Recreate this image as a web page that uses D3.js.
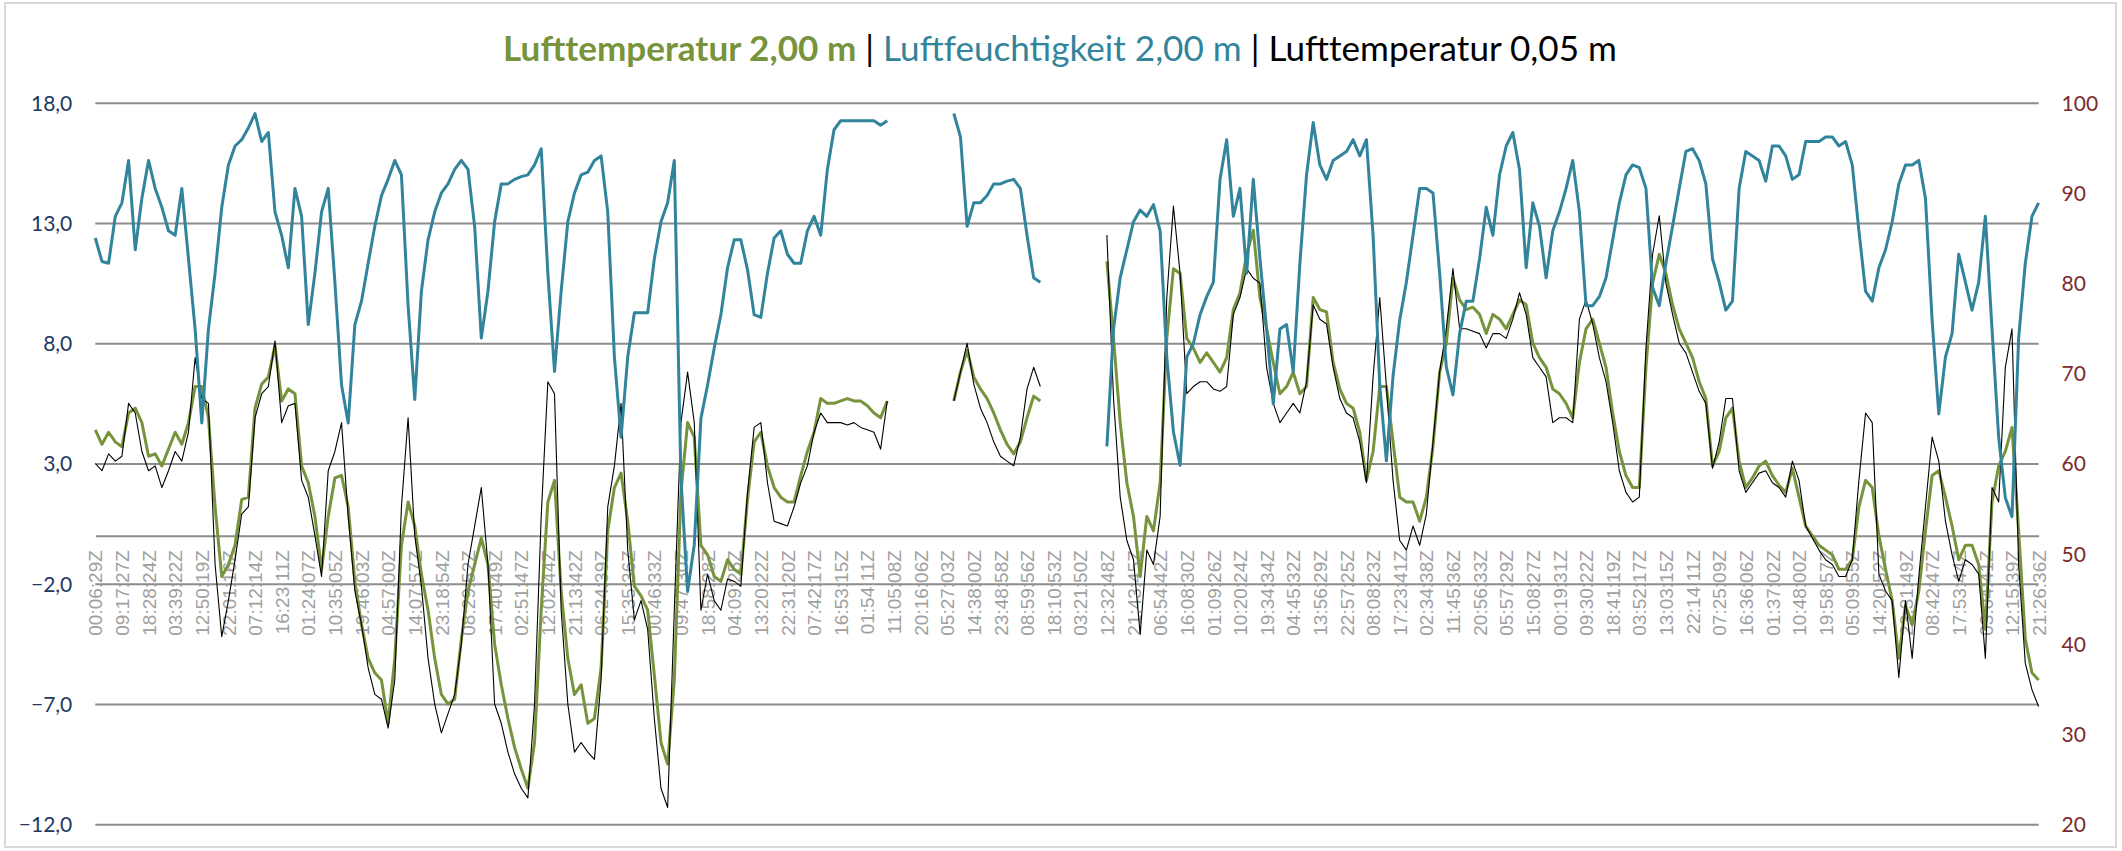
<!DOCTYPE html>
<html>
<head>
<meta charset="utf-8">
<script src="https://cdn.jsdelivr.net/npm/d3@7"></script>
<style>
  body { margin: 0; background: #fff; }
  svg { display: block; }
  text { font-family: Lato, "Open Sans", sans-serif; }
</style>
</head>
<body>
<div id="chart"></div>
<script>
// tick labels on the time axis, one every 4 samples
const timeLabels = [
  "00:06:29Z", "09:17:27Z", "18:28:24Z", "03:39:22Z", "12:50:19Z", "22:01:16Z", "07:12:14Z", "16:23:11Z",
  "01:24:07Z", "10:35:05Z", "19:46:03Z", "04:57:00Z", "14:07:57Z", "23:18:54Z", "08:29:52Z", "17:40:49Z",
  "02:51:47Z", "12:02:44Z", "21:13:42Z", "06:24:39Z", "15:35:36Z", "00:46:33Z", "09:47:30Z", "18:58:28Z",
  "04:09:25Z", "13:20:22Z", "22:31:20Z", "07:42:17Z", "16:53:15Z", "01:54:11Z", "11:05:08Z", "20:16:06Z",
  "05:27:03Z", "14:38:00Z", "23:48:58Z", "08:59:56Z", "18:10:53Z", "03:21:50Z", "12:32:48Z", "21:43:45Z",
  "06:54:42Z", "16:08:30Z", "01:09:26Z", "10:20:24Z", "19:34:34Z", "04:45:32Z", "13:56:29Z", "22:57:25Z",
  "08:08:23Z", "17:23:41Z", "02:34:38Z", "11:45:36Z", "20:56:33Z", "05:57:29Z", "15:08:27Z", "00:19:31Z",
  "09:30:22Z", "18:41:19Z", "03:52:17Z", "13:03:15Z", "22:14:11Z", "07:25:09Z", "16:36:06Z", "01:37:02Z",
  "10:48:00Z", "19:58:57Z", "05:09:55Z", "14:20:52Z", "23:31:49Z", "08:42:47Z", "17:53:44Z", "03:04:41Z",
  "12:15:39Z", "21:26:36Z"
];
const labelStep = 4;

// Luftfeuchtigkeit 2,00 m (%)
const humidity = [
  85.0, 82.4, 82.2, 87.4, 88.9, 93.6, 83.7, 89.4, 93.6, 90.5,
  88.4, 85.8, 85.3, 90.5, 82.7, 74.9, 64.5, 74.9, 81.1, 88.4,
  93.1, 95.2, 95.9, 97.2, 98.8, 95.7, 96.7, 87.9, 85.3, 81.7,
  90.5, 87.4, 75.4, 81.1, 87.9, 90.5, 80.1, 68.7, 64.5, 75.4,
  78.0, 82.2, 86.3, 89.7, 91.5, 93.6, 92.0, 77.5, 67.1, 79.1,
  84.8, 87.9, 90.0, 91.0, 92.6, 93.6, 92.6, 86.3, 73.9, 79.1,
  86.8, 91.0, 91.0, 91.5, 91.8, 92.0, 93.1, 94.9, 81.1, 70.2,
  79.1, 86.8, 90.0, 92.0, 92.3, 93.6, 94.1, 87.9, 71.8, 62.9,
  71.8, 76.7, 76.7, 76.7, 82.7, 86.8, 88.9, 93.6, 58.3, 45.8,
  51.0, 65.0, 68.7, 72.8, 76.5, 81.7, 84.8, 84.8, 81.5, 76.5,
  76.2, 81.1, 85.0, 85.8, 83.2, 82.2, 82.2, 85.8, 87.4, 85.3,
  92.6, 97.0, 98.0, 98.0, 98.0, 98.0, 98.0, 98.0, 97.5, 98.0,
  null, null, null, null, null, null, null, null, null, 98.8,
  96.2, 86.3, 88.9, 88.9, 89.7, 91.0, 91.0, 91.3, 91.5, 90.5,
  85.3, 80.6, 80.1, null, null, null, null, null, null, null,
  null, null, 61.9, 74.9, 80.6, 83.7, 86.8, 88.1, 87.4, 88.7,
  85.8, 71.8, 63.5, 59.8, 71.8, 73.3, 76.5, 78.5, 80.1, 91.5,
  95.9, 87.4, 90.5, 81.1, 91.5, 82.7, 74.9, 66.6, 74.9, 75.4,
  70.2, 82.2, 92.0, 97.8, 93.1, 91.5, 93.6, 94.1, 94.6, 95.9,
  94.1, 95.9, 85.3, 68.7, 60.3, 69.7, 75.9, 80.1, 85.3, 90.5,
  90.5, 90.0, 81.1, 70.7, 67.6, 74.4, 78.0, 78.0, 82.7, 88.4,
  85.3, 92.0, 95.2, 96.7, 92.6, 81.7, 88.9, 86.3, 80.6, 85.8,
  87.9, 90.5, 93.6, 87.9, 77.5, 77.5, 78.5, 80.6, 84.8, 88.9,
  92.0, 93.1, 92.8, 90.5, 79.5, 77.5, 82.2, 86.3, 90.5, 94.6,
  94.9, 93.6, 91.0, 82.7, 80.1, 77.0, 78.0, 90.5, 94.6, 94.1,
  93.6, 91.3, 95.2, 95.2, 94.1, 91.5, 92.0, 95.7, 95.7, 95.7,
  96.2, 96.2, 95.2, 95.7, 93.1, 85.8, 79.1, 78.0, 81.7, 83.7,
  86.8, 91.0, 93.1, 93.1, 93.6, 89.4, 75.9, 65.5, 71.8, 74.4,
  83.2, 80.1, 77.0, 80.1, 87.4, 74.9, 62.9, 56.2, 54.1, 73.9,
  82.2, 87.4, 88.9
];

// Lufttemperatur 2,00 m (°C)
const temp200 = [
  4.4, 3.8, 4.3, 3.9, 3.7, 5.1, 5.3, 4.7, 3.3, 3.4,
  2.9, 3.6, 4.3, 3.8, 4.7, 6.2, 6.2, 4.9, 1.2, -1.7,
  -1.2, -0.4, 1.5, 1.6, 5.3, 6.3, 6.6, 7.9, 5.6, 6.1,
  5.9, 2.9, 2.2, 0.8, -1.4, 0.8, 2.4, 2.5, 1.2, -1.9,
  -3.7, -5.1, -5.7, -6.0, -7.8, -5.1, -0.4, 1.4, 0.4, -1.6,
  -3.1, -5.1, -6.6, -7.0, -6.8, -4.3, -2.3, -1.2, -0.1, -1.2,
  -4.5, -6.2, -7.6, -8.8, -9.7, -10.5, -8.6, -3.1, 1.4, 2.3,
  -2.3, -5.1, -6.6, -6.2, -7.8, -7.6, -5.5, 0.2, 2.0, 2.6,
  0.6, -2.1, -2.5, -3.1, -5.8, -8.6, -9.5, -6.0, 1.8, 4.7,
  4.1, -0.4, -0.8, -1.7, -1.9, -1.0, -1.4, -1.6, 1.5, 3.9,
  4.3, 2.9, 2.0, 1.6, 1.4, 1.4, 2.5, 3.5, 4.3, 5.7,
  5.5, 5.5, 5.6, 5.7, 5.6, 5.6, 5.4, 5.1, 4.9, 5.6,
  null, null, null, null, null, null, null, null, null, 5.6,
  6.8, 7.7, 6.6, 6.1, 5.7, 5.1, 4.4, 3.8, 3.4, 3.9,
  4.9, 5.8, 5.6, null, null, null, null, null, null, null,
  null, null, 11.4, 8.2, 4.7, 2.2, 0.8, -1.7, 0.8, 0.2,
  2.2, 8.2, 11.1, 10.9, 8.2, 7.8, 7.2, 7.6, 7.2, 6.8,
  7.4, 9.4, 10.1, 11.7, 12.7, 9.9, 8.6, 7.2, 5.9, 6.2,
  6.8, 5.9, 6.2, 9.9, 9.4, 9.3, 7.2, 6.1, 5.5, 5.3,
  4.3, 2.3, 3.5, 6.2, 6.2, 3.9, 1.6, 1.4, 1.4, 0.6,
  1.6, 3.7, 6.8, 8.0, 10.7, 9.8, 9.4, 9.5, 9.2, 8.4,
  9.2, 9.0, 8.6, 9.2, 9.8, 9.6, 8.0, 7.4, 7.0, 6.1,
  5.9, 5.5, 4.9, 7.2, 8.6, 9.0, 8.0, 7.0, 5.1, 3.5,
  2.5, 2.0, 2.0, 7.0, 10.5, 11.7, 10.9, 9.6, 8.6, 8.0,
  7.4, 6.4, 5.7, 2.9, 3.5, 4.9, 5.3, 3.1, 2.0, 2.4,
  2.9, 3.1, 2.5, 2.1, 1.8, 2.8, 1.6, 0.4, 0.0, -0.4,
  -0.6, -0.8, -1.4, -1.4, -1.0, 1.2, 2.3, 2.0, 0.0, -1.4,
  -2.7, -5.1, -2.9, -3.7, -2.3, 0.2, 2.5, 2.7, 1.6, 0.4,
  -1.0, -0.4, -0.4, -1.2, -3.9, 1.4, 2.9, 3.5, 4.5, 0.2,
  -4.3, -5.7, -6.0
];

// Lufttemperatur 0,05 m (°C)
const temp005 = [
  3.0, 2.7, 3.4, 3.1, 3.3, 5.5, 5.1, 3.5, 2.7, 2.9,
  2.0, 2.7, 3.5, 3.1, 4.3, 7.4, 5.7, 5.5, -1.2, -4.2,
  -2.7, -1.0, 0.9, 1.2, 4.9, 5.9, 6.2, 8.1, 4.7, 5.4,
  5.5, 2.3, 1.6, 0.0, -1.7, 2.7, 3.5, 4.7, 0.8, -2.3,
  -3.7, -5.5, -6.6, -6.8, -8.0, -6.0, 1.2, 4.9, 0.0, -2.1,
  -5.1, -7.0, -8.2, -7.4, -6.6, -4.5, -1.2, 0.4, 2.0, -1.2,
  -7.0, -7.8, -9.0, -9.9, -10.5, -10.9, -7.0, 0.8, 6.4, 5.9,
  -3.1, -7.0, -9.0, -8.6, -9.0, -9.3, -6.0, 1.2, 2.9, 5.5,
  -0.6, -3.5, -2.7, -3.9, -7.6, -10.5, -11.3, -3.1, 4.7, 6.8,
  4.7, -3.1, -1.6, -2.7, -3.1, -1.8, -1.9, -2.1, 1.8, 4.5,
  4.7, 2.2, 0.6, 0.5, 0.4, 1.2, 2.2, 2.9, 4.3, 5.1,
  4.7, 4.7, 4.7, 4.6, 4.7, 4.5, 4.4, 4.3, 3.6, 5.6,
  null, null, null, null, null, null, null, null, null, 5.6,
  6.8, 8.0, 6.3, 5.3, 4.7, 3.9, 3.3, 3.1, 2.9, 4.1,
  6.1, 7.0, 6.2, null, null, null, null, null, null, null,
  null, null, 12.5, 5.7, 1.6, -0.2, -1.0, -4.1, -0.6, -1.2,
  0.8, 9.9, 13.7, 10.9, 5.9, 6.2, 6.4, 6.4, 6.1, 6.0,
  6.2, 9.2, 9.9, 11.1, 10.7, 10.5, 7.0, 5.5, 4.7, 5.1,
  5.5, 5.1, 6.4, 9.6, 9.0, 8.8, 7.0, 5.7, 5.1, 4.9,
  3.9, 2.2, 6.6, 9.9, 6.2, 2.3, -0.2, -0.6, 0.4, -0.4,
  0.9, 3.9, 6.8, 8.6, 11.1, 8.6, 8.6, 8.5, 8.4, 7.8,
  8.4, 8.4, 8.2, 9.0, 10.1, 9.2, 7.4, 7.0, 6.6, 4.7,
  4.9, 4.9, 4.7, 9.0, 9.8, 8.8, 7.4, 6.4, 4.7, 2.7,
  1.8, 1.4, 1.6, 7.8, 11.7, 13.3, 10.5, 9.2, 8.0, 7.6,
  6.8, 6.0, 5.5, 2.8, 3.9, 5.7, 5.7, 2.7, 1.8, 2.2,
  2.6, 2.7, 2.2, 2.0, 1.6, 3.1, 2.3, 0.4, -0.1, -0.6,
  -1.0, -1.2, -1.7, -1.7, -1.0, 2.3, 5.1, 4.7, -1.6, -2.3,
  -2.7, -5.9, -2.7, -5.1, -1.7, 1.2, 4.1, 3.1, 0.6, -0.8,
  -1.9, -1.0, -1.2, -1.6, -5.1, 2.0, 1.4, 7.0, 8.6, -1.2,
  -5.3, -6.4, -7.1
];

const leftTicks = [18, 13, 8, 3, -2, -7, -12];
const rightTicks = [100, 90, 80, 70, 60, 50, 40, 30, 20];

const W = 2122, H = 851;
const margin = { top: 102.7, right: 83.4, bottom: 26.7, left: 95.3 };
const width = W - margin.left - margin.right;
const height = H - margin.top - margin.bottom;

const colors = { t200: "#77933c", hum: "#31849b", t005: "#000000", grid: "#8c8c8c" };

const svg = d3.select("#chart")
  .append("svg")
  .attr("width", W)
  .attr("height", H);

// chart border
svg.append("rect")
  .attr("x", 5).attr("y", 3)
  .attr("width", W - 11).attr("height", H - 7)
  .attr("fill", "none")
  .attr("stroke", "#d9d9d9")
  .attr("stroke-width", 2);

// title
const title = svg.append("text")
  .attr("x", 1060)
  .attr("y", 61)
  .attr("text-anchor", "middle")
  .style("font-size", "32px");
title.append("tspan").attr("fill", colors.t200).attr("font-weight", "bold").text("Lufttemperatur 2,00 m");
title.append("tspan").attr("fill", "#000").text(" | ");
title.append("tspan").attr("fill", colors.hum).text("Luftfeuchtigkeit 2,00 m");
title.append("tspan").attr("fill", "#000").text(" | ");
title.append("tspan").attr("fill", "#000").text("Lufttemperatur 0,05 m");
const tw = title.node().getComputedTextLength();
title.style("font-size", (32 * 1114 / tw) + "px");

const g = svg.append("g")
  .attr("transform", `translate(${margin.left},${margin.top})`);

const n = humidity.length;
const x = d3.scaleLinear().domain([0, n - 1]).range([0, width]);
const yL = d3.scaleLinear().domain([-12, 18]).range([height, 0]);
const yR = d3.scaleLinear().domain([20, 100]).range([height, 0]);

// left axis with gridlines
const leftAxis = g.append("g")
  .call(d3.axisLeft(yL).tickValues(leftTicks).tickFormat(d => d3.format(".1f")(d).replace(".", ","))
    .tickSize(-width).tickPadding(23));
leftAxis.select(".domain").remove();
leftAxis.selectAll("line").attr("stroke", colors.grid).attr("stroke-width", 2);
leftAxis.selectAll("text").attr("fill", "#1f3864").style("font-size", "21px").attr("dy", "0.35em");

// right axis
const rightAxis = g.append("g")
  .attr("transform", `translate(${width},0)`)
  .call(d3.axisRight(yR).tickValues(rightTicks).tickSize(0).tickPadding(23));
rightAxis.select(".domain").remove();
rightAxis.selectAll("text").attr("fill", "#7b2b2b").style("font-size", "21px").attr("dy", "0.35em");

// category axis at 0
const xAxis = g.append("g")
  .attr("transform", `translate(0,${yL(0)})`)
  .call(d3.axisBottom(x)
    .tickValues(timeLabels.map((d, i) => i * labelStep))
    .tickFormat(d => timeLabels[d / labelStep])
    .tickSize(0));
xAxis.select(".domain").attr("stroke", colors.grid).attr("stroke-width", 2);
xAxis.selectAll("text")
  .attr("transform", "rotate(-90)")
  .attr("text-anchor", "end")
  .attr("x", -14.5)
  .attr("y", 0)
  .attr("dy", "0.35em")
  .attr("fill", "#a0a0a0")
  .style("font-family", "'Liberation Sans', Arial, sans-serif")
  .style("font-size", "19px");

// series
const lineL = d3.line().defined(d => d != null).x((d, i) => x(i)).y(d => yL(d));
const lineR = d3.line().defined(d => d != null).x((d, i) => x(i)).y(d => yR(d));

g.append("path").datum(temp200)
  .attr("fill", "none").attr("stroke", colors.t200).attr("stroke-width", 3)
  .attr("stroke-linejoin", "round").attr("d", lineL);

g.append("path").datum(temp005)
  .attr("fill", "none").attr("stroke", colors.t005).attr("stroke-width", 1.1)
  .attr("stroke-linejoin", "round").attr("d", lineL);

g.append("path").datum(humidity)
  .attr("fill", "none").attr("stroke", colors.hum).attr("stroke-width", 3)
  .attr("stroke-linejoin", "round").attr("d", lineR);
</script>
</body>
</html>
